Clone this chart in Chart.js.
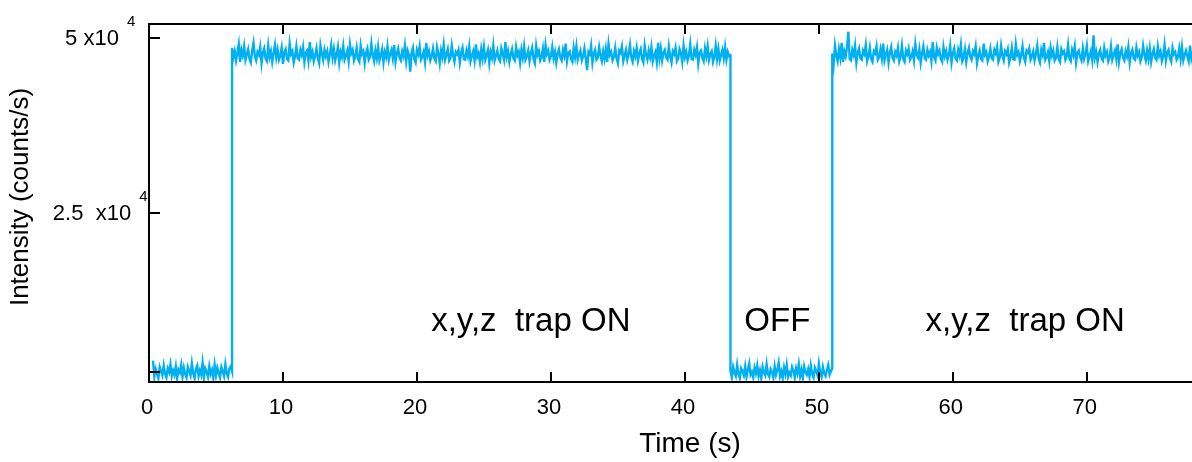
<!DOCTYPE html>
<html>
<head>
<meta charset="utf-8">
<script src="https://cdn.jsdelivr.net/npm/chart.js@4/dist/chart.umd.min.js"></script>
<style>
    html, body { margin: 0; padding: 0; background: #fff; }
    canvas { display: block; }
</style>
</head>
<body>
<canvas id="trapChart" width="1192" height="462"></canvas>
<script>
// sampling step of the trace (s)
const step = 0.1;

// trap OFF, 0.3 s .. 6.2 s
const offAStart = 0.3;
const offA = [3900, 1600, 2700, 2100, 1400, 3000, 2400, 1800, 3200, 2000,
    1500, 2800, 2300, 3400, 1700, 2500, 1900, 3100, 1400, 2600,
    2200, 3300, 1600, 2900, 2000, 1500, 3000, 2400, 1800, 3500,
    2100, 1400, 2700, 3200, 1700, 2500, 1900, 3600, 1500, 2800,
    2300, 1600, 3100, 2000, 2600, 1400, 3300, 1800, 2900, 2200,
    1500, 3000, 2400, 1700, 3400, 2100, 1600, 2800, 3100, 2400];

// trap ON, 6.2 s .. 43.4 s
const onAStart = 6.2;
const onA = [48600, 47200, 48100, 46800, 47900, 49100, 46600, 48300, 47500, 48800,
    46900, 47700, 48400, 47000, 46500, 48200, 49300, 47400, 46800, 48000,
    47600, 48700, 46400, 47900, 48500, 47100, 46700, 48900, 47300, 48100,
    46600, 47800, 49000, 47200, 48300, 46900, 47500, 48600, 46300, 48000,
    48400, 47000, 46800, 49200, 47700, 48100, 46500, 47400, 48800, 47100,
    46900, 48300, 47600, 48700, 46600, 47900, 48200, 46800, 49400, 47300,
    48000, 46700, 47500, 48500, 47100, 46400, 48900, 47800, 46900, 48300,
    47400, 48100, 46600, 47700, 49000, 47200, 48400, 46800, 47600, 48700,
    46500, 48000, 47300, 48800, 46900, 47500, 48200, 46700, 49100, 47800,
    48300, 46800, 47400, 48600, 47000, 46600, 48900, 47700, 48100, 46400,
    47900, 48500, 46900, 47300, 49200, 47600, 46700, 48200, 47100, 48700,
    46800, 47500, 48400, 46500, 48000, 47300, 48800, 46900, 47700, 48300,
    47100, 49000, 46600, 47800, 48500, 47200, 46800, 48100, 47400, 48900,
    46700, 48200, 47600, 45200, 47900, 48600, 47000, 46500, 48300, 47700,
    48800, 46900, 47300, 48000, 46600, 49300, 47500, 48100, 46800, 47400,
    48500, 47100, 46700, 48700, 47800, 46400, 48200, 47300, 49000, 46900,
    47600, 48400, 46800, 47200, 48900, 47500, 46600, 48000, 47700, 48300,
    46500, 47900, 48600, 47000, 46900, 48200, 47400, 48800, 46700, 47500,
    48100, 46800, 49100, 47300, 47800, 46600, 48400, 47100, 48700, 46900,
    47600, 48300, 46400, 48000, 47200, 48900, 46800, 47500, 48200, 47000,
    46700, 48500, 47800, 46900, 49400, 47300, 48100, 46600, 47700, 48400,
    47100, 46800, 48700, 47500, 48000, 46500, 48300, 47200, 48800, 46900,
    47400, 48200, 46700, 47900, 48600, 47000, 46400, 48900, 47600, 48100,
    46800, 47300, 48500, 46600, 49000, 47700, 48200, 46900, 47400, 48700,
    47100, 48000, 46500, 47800, 48400, 47200, 46800, 48300, 47500, 49200,
    46700, 47900, 48100, 47000, 46600, 48600, 47300, 48800, 46900, 47600,
    48200, 46800, 47400, 48500, 47100, 45400, 48000, 47700, 48900, 46500,
    47800, 48300, 46900, 47200, 48700, 47500, 46700, 48100, 47000, 48400,
    46600, 49100, 47600, 48000, 46800, 47300, 48600, 47100, 46400, 48200,
    47900, 48800, 46700, 47500, 48300, 46900, 47700, 49000, 47200, 46600,
    48100, 47400, 48600, 46800, 47800, 48400, 47000, 46500, 48900, 47600,
    46900, 48200, 47300, 48700, 46700, 47500, 48000, 46600, 49300, 47100,
    48500, 46800, 47900, 48300, 47200, 46900, 48800, 47400, 46500, 48100,
    47700, 48600, 46700, 47100, 48400, 47800, 46600, 48900, 47300, 48000,
    46800, 47500, 49100, 47000, 46900, 48300, 47600, 48700, 46400, 47900,
    48200, 47200, 46700, 48500, 47400, 48800, 46900, 47700, 48100, 46600,
    47300, 48900, 47000, 48400, 46800, 47600, 48300, 47100, 48700, 46900,
    48000, 47400, 47500];

// trap OFF, 43.4 s .. 51.0 s
const offBStart = 43.4;
const offB = [2500, 1500, 3000, 2200, 1700, 3300, 2000, 1400, 2800, 2400,
    1800, 3100, 1600, 2600, 3500, 1900, 2300, 1500, 2900, 2100,
    3200, 1700, 2500, 1400, 3000, 2200, 1800, 3400, 2000, 1600,
    2700, 2300, 1500, 3100, 1900, 2600, 3600, 1700, 2400, 1400,
    2900, 2000, 3300, 1600, 2200, 1800, 3000, 2500, 1500, 2800,
    2100, 3400, 1700, 2600, 1400, 3100, 2300, 1900, 2700, 1600,
    3200, 2000, 1500, 2900, 2400, 1800, 3500, 2200, 1600, 3000,
    2100, 1700, 2600, 3300, 1900, 2400, 2800];

// trap ON, 51.0 s .. 77.9 s
const onCStart = 51.0;
const onC = [47800, 46300, 48900, 47500, 46700, 48400, 47200, 49300, 46600, 48100,
    47400, 48700, 50900, 47000, 46800, 48300, 47600, 48900, 46500, 47900,
    48500, 47100, 46900, 48200, 47700, 49000, 46700, 47400, 48600, 47000,
    46600, 48100, 47800, 48800, 46900, 47300, 48400, 47100, 49200, 46800,
    47600, 48300, 46500, 47900, 48700, 47200, 46800, 48000, 47500, 48600,
    46700, 47400, 48900, 47000, 46600, 48200, 47700, 48500, 46900, 47300,
    48100, 46800, 49100, 47600, 47200, 48400, 46500, 47800, 48800, 47100,
    46900, 48300, 47500, 48000, 46700, 49400, 47300, 46800, 48600, 47700,
    48200, 47000, 46600, 48700, 47400, 48100, 46900, 47600, 48900, 46500,
    47800, 48500, 47100, 46800, 48300, 47500, 49000, 46700, 47200, 48400,
    46600, 47900, 48600, 47300, 46900, 48100, 47700, 48800, 46400, 47500,
    48200, 47000, 46800, 49200, 47600, 48000, 46700, 47400, 48500, 47100,
    46900, 48300, 47800, 48700, 46600, 47200, 48900, 47500, 46800, 48100,
    47700, 48400, 46500, 47300, 48600, 47000, 46900, 49100, 47600, 48000,
    46700, 47500, 48800, 47200, 46600, 48200, 47900, 48500, 46900, 47400,
    48100, 46800, 47700, 48900, 47100, 46500, 48300, 47600, 49300, 46900,
    47300, 48000, 46700, 48600, 47500, 48200, 46800, 47200, 48700, 47000,
    46600, 48400, 47800, 48100, 46900, 47400, 49000, 47100, 46700, 48300,
    47600, 48800, 46500, 47900, 48200, 47300, 46800, 48500, 47000, 47700,
    48900, 46700, 47400, 48100, 46900, 50400, 47200, 48000, 46600, 47800,
    48300, 47100, 46800, 48600, 47500, 48000, 46700, 47300, 48800, 46900,
    47600, 48200, 47000, 49100, 46600, 47900, 48400, 47200, 46800, 48100,
    47400, 48700, 46500, 47800, 48300, 47100, 46900, 48600, 47500, 48000,
    46700, 47300, 48900, 47600, 46800, 48200, 47000, 48500, 46600, 47700,
    48400, 47200, 46900, 48800, 47500, 48100, 46700, 47400, 49000, 46800,
    47900, 48300, 47100, 46600, 48600, 47700, 48000, 46900, 47300, 48500,
    47000, 48700, 46800, 47600, 48200, 47400, 46700, 48900, 47100, 48000];

const xTicks = [0, 10, 20, 30, 40, 50, 60, 70];
const xTopTicks = [10, 20, 30, 40, 50, 60, 70];
const yTicks = [2290, 25000, 50000];
const yLabels = [
    { value: 25000, base: '2.5  x10', exp: '4' },
    { value: 50000, base: '5 x10', exp: '4' }
];
const notes = [
    { x: 28.5, text: 'x,y,z  trap ON' },
    { x: 46.9, text: 'OFF' },
    { x: 65.4, text: 'x,y,z  trap ON' }
];

function segment(start, values) {
    return values.map((v, i) => ({ x: +(start + i * step).toFixed(2), y: v }));
}

const trace = [
    ...segment(offAStart, offA),
    ...segment(onAStart, onA),
    ...segment(offBStart, offB),
    ...segment(onCStart, onC)
];

const FONT = '"Liberation Sans", Arial, Helvetica, sans-serif';

const framePlugin = {
    id: 'frame',
    afterDraw(chart) {
        const { ctx, chartArea: a, scales: { x, y } } = chart;
        ctx.save();
        ctx.strokeStyle = '#000';
        ctx.lineWidth = 2;
        ctx.lineCap = 'square';

        // axes box (right side runs off the picture)
        ctx.beginPath();
        ctx.moveTo(a.right + 2, a.top);
        ctx.lineTo(a.left, a.top);
        ctx.lineTo(a.left, a.bottom);
        ctx.lineTo(a.right + 2, a.bottom);
        ctx.stroke();

        // inward ticks
        ctx.lineCap = 'butt';
        ctx.beginPath();
        xTicks.forEach(v => {
            const px = Math.round(x.getPixelForValue(v));
            ctx.moveTo(px, a.bottom);
            ctx.lineTo(px, a.bottom - 10);
        });
        xTopTicks.forEach(v => {
            const px = Math.round(x.getPixelForValue(v));
            ctx.moveTo(px, a.top);
            ctx.lineTo(px, a.top + 10);
        });
        yTicks.forEach(v => {
            const py = Math.round(y.getPixelForValue(v));
            ctx.moveTo(a.left, py);
            ctx.lineTo(a.left + 11, py);
        });
        ctx.stroke();

        ctx.fillStyle = '#000';

        // x tick labels
        ctx.font = '22px ' + FONT;
        ctx.textAlign = 'center';
        ctx.textBaseline = 'middle';
        xTicks.forEach(v => {
            ctx.fillText(String(v), x.getPixelForValue(v) - 2, a.bottom + 26);
        });

        // y tick labels with superscript, centred in the gutter
        yLabels.forEach(l => {
            const py = y.getPixelForValue(l.value);
            ctx.font = '22px ' + FONT;
            ctx.textAlign = 'center';
            ctx.textBaseline = 'middle';
            const cx = 92;
            ctx.fillText(l.base, cx, py + 1);
            const right = cx + ctx.measureText(l.base).width / 2;
            ctx.font = '15px ' + FONT;
            ctx.textAlign = 'left';
            ctx.fillText(l.exp, right + 8, py - 16);
        });

        // axis titles
        ctx.font = '28px ' + FONT;
        ctx.textAlign = 'center';
        ctx.textBaseline = 'middle';
        ctx.fillText('Time (s)', 690, 444);
        ctx.save();
        ctx.translate(21, 197);
        ctx.rotate(-Math.PI / 2);
        ctx.font = '26px ' + FONT;
        ctx.fillText('Intensity (counts/s)', 0, 0);
        ctx.restore();

        // annotations
        ctx.font = '33px ' + FONT;
        notes.forEach(n => {
            ctx.fillText(n.text, x.getPixelForValue(n.x), 322);
        });

        ctx.restore();
    }
};

new Chart(document.getElementById('trapChart').getContext('2d'), {
    type: 'line',
    data: {
        datasets: [{
            label: 'Intensity',
            data: trace,
            borderColor: '#00b0f0',
            borderWidth: 2.4,
            pointRadius: 0,
            tension: 0,
            fill: false
        }]
    },
    options: {
        responsive: false,
        animation: false,
        events: [],
        layout: { padding: { left: 149, top: 24, right: 0, bottom: 80 } },
        plugins: {
            legend: { display: false },
            tooltip: { enabled: false }
        },
        scales: {
            x: { type: 'linear', display: false, min: 0, max: 77.85 },
            y: { type: 'linear', display: false, min: 860, max: 52000 }
        }
    },
    plugins: [framePlugin]
});
</script>
</body>
</html>
